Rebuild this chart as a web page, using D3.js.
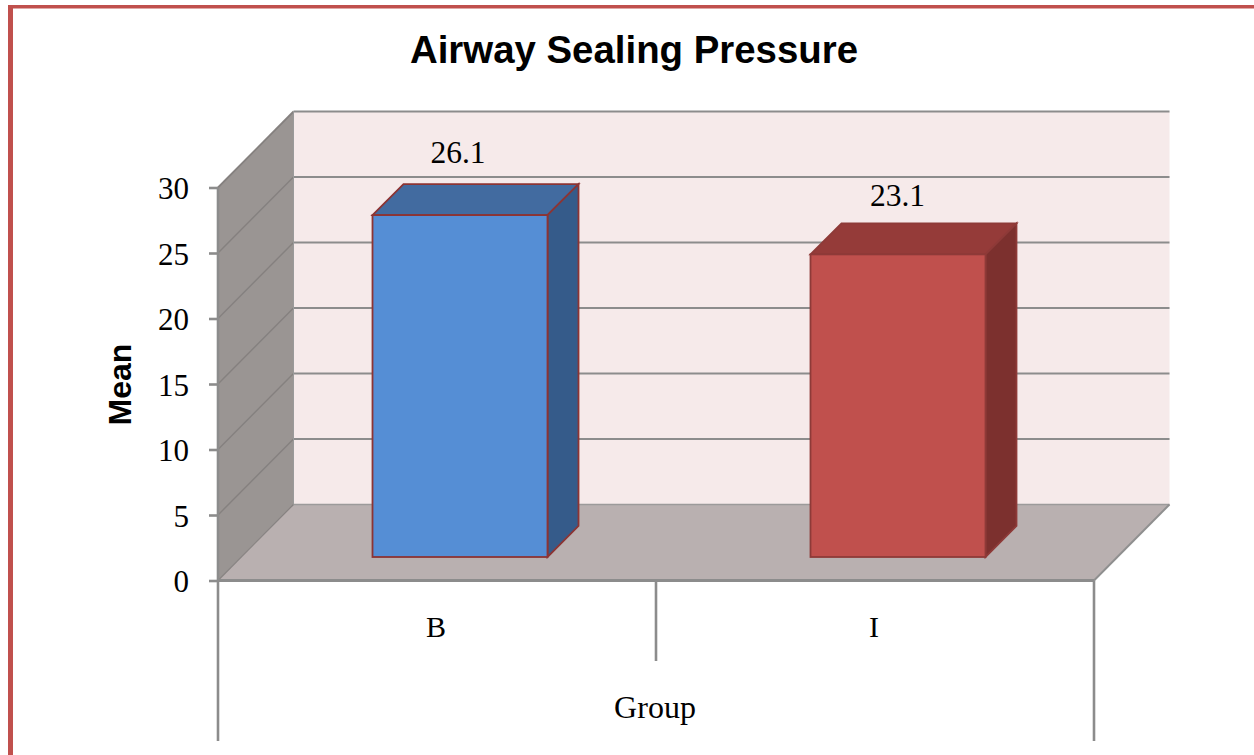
<!DOCTYPE html>
<html><head><meta charset="utf-8">
<script src="https://cdn.jsdelivr.net/npm/d3@7/dist/d3.min.js"></script>
<style>html,body{margin:0;padding:0;background:#fff;overflow:hidden}svg{display:block}
text{fill:#000}.serif{font-family:"Liberation Serif",serif}.sans{font-family:"Liberation Sans",sans-serif;font-weight:bold}</style>
</head><body><svg id="c" width="1254" height="755"></svg>
<script>
const categories = ["B", "I"];
const means = [26.1, 23.1];
const labels = ["26.1", "23.1"];
const yTicks = [0, 5, 10, 15, 20, 25, 30];
const titleText = "Airway Sealing Pressure";
const yTitle = "Mean";
const xTitle = "Group";
const frontFill = ["#558ed5", "#c0504d"];
const topFill = ["#426ba0", "#953b39"];
const sideFill = ["#355b8a", "#7c302e"];
const edge = ["#8c3434", "#8e3a38"];

const svg = d3.select("#c");
const depth = {x: 75.5, y: -76};
const barDepth = 31, barInsetX = 23, barInsetY = 23.5, barW = 175;
const x = d3.scaleBand().domain(categories).range([218, 1094]);
const y = d3.scaleLinear().domain([0, 30]).range([580.5, 187.5]);
const grey = "#8c8c8c";

// page border
svg.append("rect").attr("x", 8).attr("y", 5).attr("width", 1246).attr("height", 3.5).attr("fill", "#c0504d");
svg.append("rect").attr("x", 8).attr("y", 5).attr("width", 5).attr("height", 750).attr("fill", "#c0504d");

const X0 = x.range()[0], X1 = x.range()[1];
const Y0 = y(0), Y30 = y(30);
const poly = pts => "M" + pts.map(p => p.join(",")).join("L") + "Z";

// back wall
svg.append("rect").attr("x", X0 + depth.x).attr("y", Y30 + depth.y)
  .attr("width", X1 - X0).attr("height", Y0 - Y30).attr("fill", "#f6eaea");
// side wall
svg.append("path").attr("d", poly([[X0, Y0], [X0, Y30], [X0 + depth.x, Y30 + depth.y], [X0 + depth.x, Y0 + depth.y]])).attr("fill", "#9a9593");
// floor
svg.append("path").attr("d", poly([[X0, Y0], [X1, Y0], [X1 + depth.x, Y0 + depth.y], [X0 + depth.x, Y0 + depth.y]])).attr("fill", "#b9b0b0");

// gridlines on the wall and side
yTicks.forEach(t => {
  const yy = y(t);
  if (t > 0) {
    svg.append("line").attr("x1", X0).attr("y1", yy).attr("x2", X0 + depth.x).attr("y2", yy + depth.y)
      .attr("stroke", "#85817f").attr("stroke-width", t === 30 ? 1.8 : 1.4);
  }
  svg.append("line").attr("x1", X0 + depth.x).attr("y1", yy + depth.y).attr("x2", X1 + depth.x).attr("y2", yy + depth.y)
    .attr("stroke", t === 0 ? "#9c9a9a" : grey).attr("stroke-width", t === 0 ? 1.5 : 2);
});
svg.append("line").attr("x1", X0 + depth.x).attr("y1", Y30 + depth.y).attr("x2", X0 + depth.x).attr("y2", Y0 + depth.y)
  .attr("stroke", "#9a9a9a").attr("stroke-width", 1);
svg.append("line").attr("x1", X1).attr("y1", Y0).attr("x2", X1 + depth.x).attr("y2", Y0 + depth.y)
  .attr("stroke", "#8f8f8f").attr("stroke-width", 2);
svg.append("line").attr("x1", X0).attr("y1", Y0).attr("x2", X0 + depth.x).attr("y2", Y0 + depth.y)
  .attr("stroke", "#85817f").attr("stroke-width", 1.2);

// bars
categories.forEach((c, i) => {
  const xl = x(c) + x.bandwidth() / 2 + barInsetX - barW / 2;
  const xr = xl + barW;
  const base = y(0) - barInsetY;
  const top = base - (y(0) - y(means[i]));
  const d = barDepth;
  const g = svg.append("g").attr("stroke", edge[i]).attr("stroke-width", 1.8).attr("stroke-linejoin", "miter");
  g.append("path").attr("d", poly([[xl, top], [xr, top], [xr + d, top - d], [xl + d, top - d]])).attr("fill", topFill[i]);
  g.append("path").attr("d", poly([[xr, top], [xr + d, top - d], [xr + d, base - d], [xr, base]])).attr("fill", sideFill[i]);
  g.append("rect").attr("x", xl).attr("y", top).attr("width", barW).attr("height", base - top).attr("fill", frontFill[i]);
  svg.append("text").attr("class", "serif").attr("x", xl + barW / 2 - 2 + i * 1.5).attr("y", top - 52 + i * 4)
    .attr("text-anchor", "middle").attr("font-size", 31.5).text(labels[i]);
});

// y axis
const axisY = d3.axisLeft(y).tickValues(yTicks).tickSize(9).tickPadding(20);
const gy = svg.append("g").attr("transform", `translate(${X0},0)`).call(axisY);
gy.select(".domain").attr("stroke", grey).attr("stroke-width", 2.6).attr("d", `M0,${Y30}V${Y0}`);
gy.selectAll(".tick line").attr("stroke", grey).attr("stroke-width", 2.6);
gy.selectAll(".tick text").attr("class", "serif").attr("font-size", 31).attr("dy", "0.36em").style("fill", "#000");

// x axis
const axisX = d3.axisBottom(x).tickSize(0).tickPadding(35);
const gx = svg.append("g").attr("transform", `translate(-1,${Y0})`).call(axisX);
gx.select(".domain").attr("stroke", grey).attr("stroke-width", 3).attr("d", `M${X0 + 1},0H${X1 + 1}`);
gx.selectAll(".tick text").attr("class", "serif").attr("font-size", 30).attr("dy", "0.71em").style("fill", "#000");

// category separators
[X0, X1].forEach(v => svg.append("line").attr("x1", v).attr("x2", v).attr("y1", Y0).attr("y2", 741).attr("stroke", grey).attr("stroke-width", 2.6));
svg.append("line").attr("x1", x(categories[1])).attr("x2", x(categories[1])).attr("y1", Y0).attr("y2", 661).attr("stroke", grey).attr("stroke-width", 2.6);

// titles
svg.append("text").attr("class", "sans").attr("x", 634).attr("y", 63).attr("text-anchor", "middle").attr("font-size", 38.4).text(titleText);
svg.append("text").attr("class", "sans").attr("transform", "translate(131,384.5) rotate(-90)").attr("text-anchor", "middle").attr("font-size", 32).text(yTitle);
svg.append("text").attr("class", "serif").attr("x", 655).attr("y", 718).attr("text-anchor", "middle").attr("font-size", 32).text(xTitle);
</script></body></html>
